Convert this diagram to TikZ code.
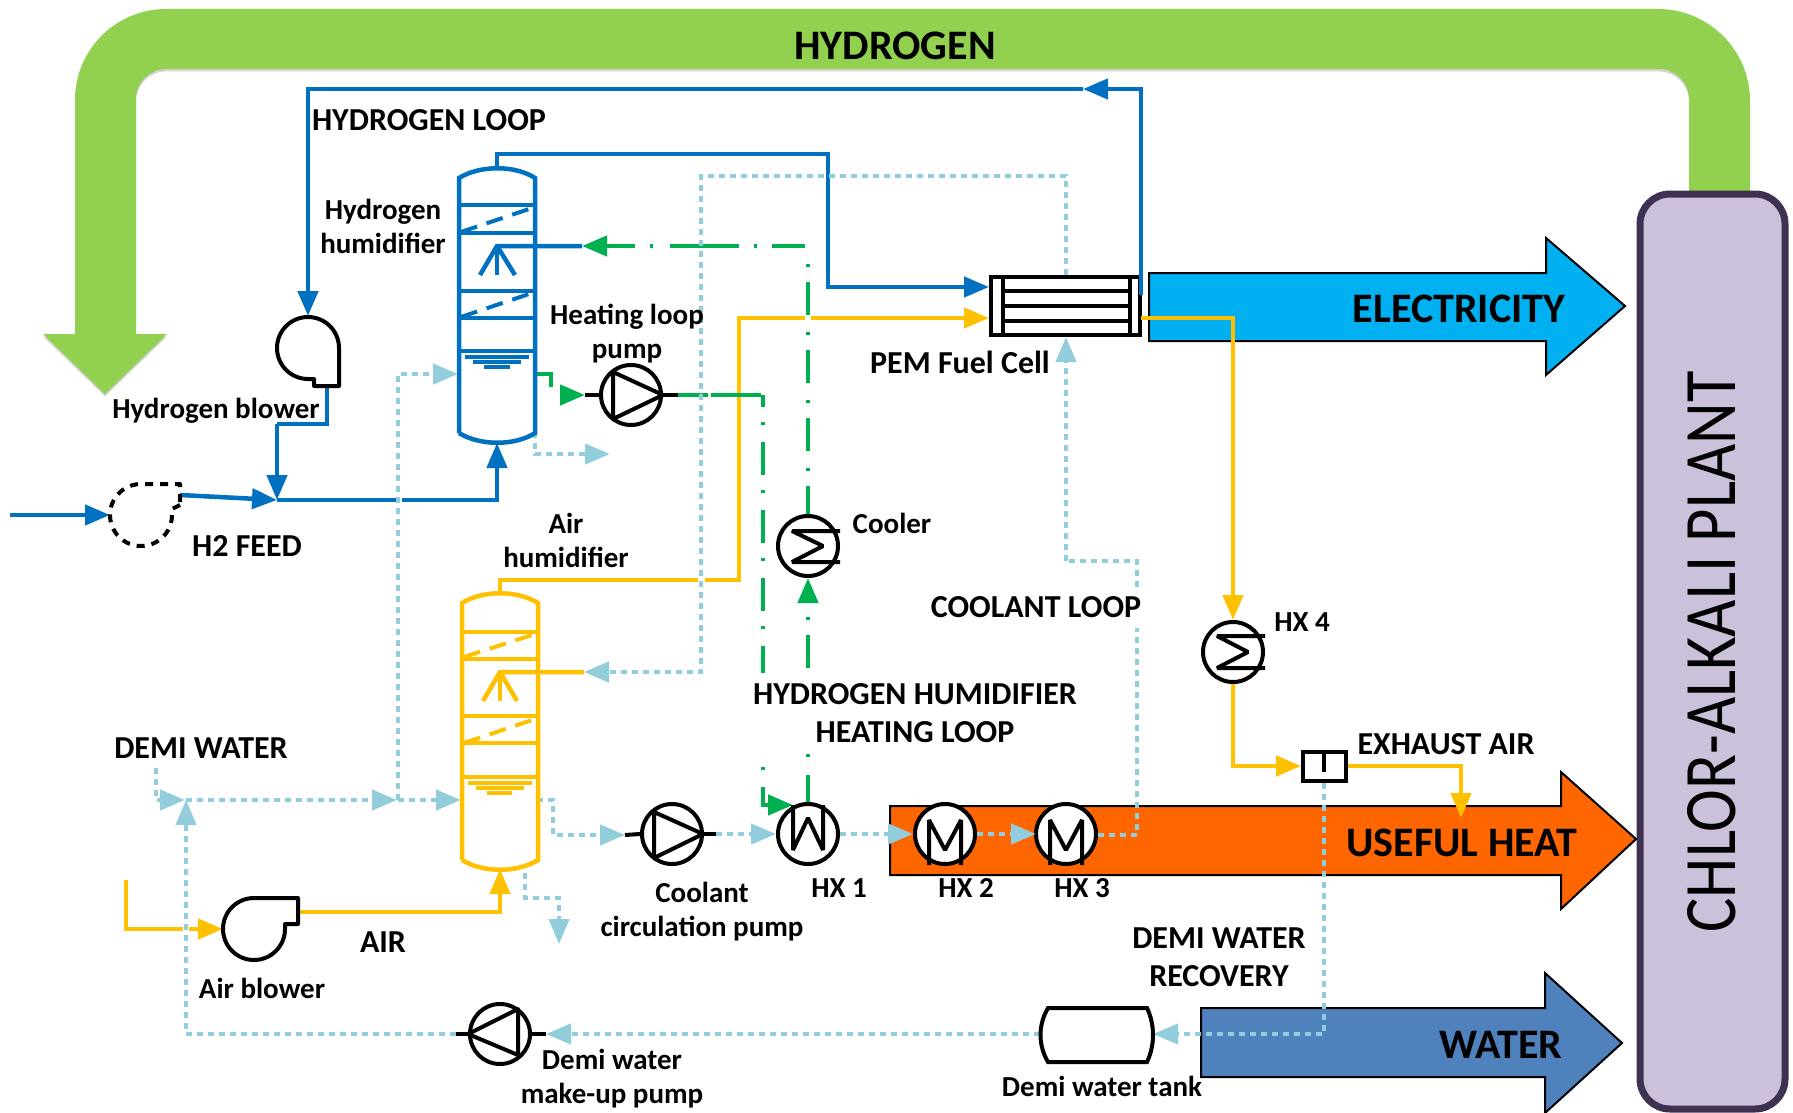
\documentclass[tikz,border=0pt]{standalone}
\usepackage{fontspec}
\setmainfont{Carlito}
\usetikzlibrary{arrows.meta}
\definecolor{cBlue}{HTML}{0070C0}
\definecolor{cYel}{HTML}{FFC000}
\definecolor{cGrn}{HTML}{00B050}
\definecolor{cDot}{HTML}{92CDDC}
\definecolor{cLeaf}{HTML}{92D050}
\definecolor{cPlant}{HTML}{CCC1DA}
\definecolor{cEdge}{HTML}{3F3151}
\definecolor{cHeat}{HTML}{FF6600}
\definecolor{cElec}{HTML}{00B0F0}
\definecolor{cWat}{HTML}{4F81BD}
\tikzset{
  x=1pt,y=-1pt,
  tip/.style={-{Triangle[length=25pt,width=20pt]}},
  bl/.style={draw=cBlue,line width=4.5pt},
  yl/.style={draw=cYel,line width=4.5pt},
  gn/.style={draw=cGrn,line width=4.5pt,dash pattern=on 33pt off 15pt on 3pt off 17pt},
  gs/.style={draw=cGrn,line width=4.5pt},
  dt/.style={draw=cDot,line width=4.5pt,dash pattern=on 6pt off 5pt},
  ds/.style={draw=cDot,line width=4.5pt},
  hatch/.style={dash pattern=on 17pt off 10pt,line width=4pt},
  bk/.style={draw=black,line width=4pt},
  equip/.style={circle,draw=black,line width=4pt,fill=white,minimum size=60pt,inner sep=0pt},
  lbl/.style={font=\bfseries\fontsize{29}{34}\selectfont,inner sep=0pt,align=center,text=black},
  lcap/.style={font=\bfseries\fontsize{32}{38}\selectfont,inner sep=0pt,align=center,text=black},
  big/.style={font=\bfseries\fontsize{42}{46}\selectfont,inner sep=0pt,text=black},
  band/.style={draw=black,line width=2pt},
}
\begin{document}
\begin{tikzpicture}
\useasboundingbox (0,0) rectangle (1793,1113);

% === hydrogen return band
\fill[gray,opacity=.35,shift={(0,2.5)}] (1750,191) -- (1750,101) arc[start angle=0,end angle=-90,radius=92] -- (166,9) arc[start angle=-90,end angle=-180,radius=91] -- (75,334) -- (43,334) -- (105,394) -- (167,334) -- (136,334) -- (136,99) arc[start angle=-180,end angle=-90,radius=30] -- (1659,69) arc[start angle=-90,end angle=0,radius=30] -- (1689,191) -- cycle;
\fill[cLeaf] (1750,191) -- (1750,101) arc[start angle=0,end angle=-90,radius=92] -- (166,9) arc[start angle=-90,end angle=-180,radius=91] -- (75,334) -- (43,334) -- (105,394) -- (167,334) -- (136,334) -- (136,99) arc[start angle=-180,end angle=-90,radius=30] -- (1659,69) arc[start angle=-90,end angle=0,radius=30] -- (1689,191) -- cycle;

% === plant
\draw[cEdge,line width=7pt,fill=cPlant,rounded corners=30pt] (1640,194) rectangle (1785,1109);
\node[rotate=90,inner sep=0pt] (plant) at (1712,652) {\fontsize{74}{80}\selectfont\scalebox{0.87}[1]{CHLOR-ALKALI PLANT}};

% === product arrows
\draw[band,fill=cElec] (1149,273) -- (1546,273) -- (1546,238) -- (1625,306) -- (1546,375) -- (1546,341) -- (1149,341) -- cycle;
\draw[band,fill=cHeat] (890,806) -- (1561,806) -- (1561,772) -- (1636,839) -- (1561,909) -- (1561,875) -- (890,875) -- cycle;
\draw[band,fill=cWat] (1201,1008) -- (1545,1008) -- (1545,973) -- (1622,1043) -- (1545,1113) -- (1545,1077) -- (1201,1077) -- cycle;

% === named points
\coordinate (h2top) at (497,168);
\coordinate (h2bot) at (497,443);
\coordinate (airtop) at (500,594);
\coordinate (airbot) at (500,869);
\coordinate (jH) at (277,500);
\coordinate (jD) at (186,800);
\coordinate (jB) at (398,800);
\coordinate (fcW1) at (989,287);
\coordinate (fcW2) at (989,318);
\coordinate (fcN) at (1066,275);
\coordinate (fcS) at (1066,337);
\coordinate (fcE) at (1141,295);
\coordinate (fcY) at (1141,318);
\coordinate (tankE) at (1153,1034);
\coordinate (tankW) at (1040,1034);
\coordinate (sepS) at (1324,783);
\coordinate (sepW) at (1301,766);
\coordinate (sepE) at (1348,766);

% === equipment circles
\node[equip] (cooler) at (808,546) {};
\node[equip] (hx4) at (1233,652) {};
\node[equip] (pumpH) at (631,395) {};
\node[equip] (pumpC) at (672,834) {};
\node[equip] (hx1) at (808,834) {};
\node[equip] (hx2) at (945,834) {};
\node[equip] (hx3) at (1066,834) {};
\node[equip] (pumpM) at (500,1034) {};

% === blue hydrogen circuit
\draw[bl,tip] (fcE) |- (1083,89);
\draw[bl,tip] (1083,89) -| (308,316);
\draw[bl] (327,386) |- (277,424);
\draw[bl,tip] (277,424) -- (jH);
\draw[bl,tip] (h2top) |- (828,154) |- (fcW1);
\draw[bl] (jH) -- (396,500);
\draw[bl,tip] (402,500) -| (h2bot);
\draw[bl,tip] (10,515) -- (110,515);
\draw[bl,tip] (180,495) -- (jH);

% === yellow air circuit
\draw[yl] (airtop) |- (698,580);
\draw[yl] (705,580) -| (739,318) -- (805,318);
\draw[yl,tip] (811,318) -- (fcW2);
\draw[yl] (fcY) -| (1233,595);
\draw[yl,tip] (1233,595) -- (hx4.north);
\draw[yl] (hx4.south) |- (1276,766);
\draw[yl,tip] (1276,766) -- (sepW);
\draw[yl] (sepE) -| (1461,794);
\draw[yl,tip] (1461,794) -- (1461,818);
\draw[yl] (126,880) |- (183,929);
\draw[yl,tip] (189,929) -- (223,929);
\draw[yl,tip] (298,912) -| (airbot);

% === green humidifier heating loop
\draw[gs] (535,374) -| (551,387);
\draw[gs,tip] (560,395) -- (585,395);
\draw[gs,dash pattern=on 30pt off 3pt on 50pt] (678,395) -- (763,395);
\draw[gn,dash phase=21pt] (763,395) -- (763,673);
\draw[gn] (763,767) -- (763,770);
\draw[gs] (763,787) |- (767,805);
\draw[gs,tip] (767,805) -- (793,805);
\draw[gs] (hx1.north) -- (808,775);
\draw[gn] (808,757) -- (808,754);
\draw[gn] (808,668) -- (808,604);
\draw[gs,tip] (808,602) -- (cooler.south);
\draw[gn,dash phase=5pt] (cooler.north) -- (808,260);
\draw[gs,dash pattern=on 33pt off 15pt on 3pt off 15pt on 69pt off 17pt on 3pt off 15pt on 30pt] (805,246) -- (607,246);
\draw[gs,tip] (607,246) -- (582,246);

% === light-blue water and coolant circuit
\draw[dt] (535,432) |- (585,454);
\draw[ds,tip] (585,454) -- (610,454);
\draw[dt] (156,768) |- (161,800);
\draw[ds,tip] (161,800) -- (185,800);
\draw[dt] (jD) -- (373,800);
\draw[ds,tip] (373,800) -- (397,800);
\draw[dt] (jB) -- (437,800);
\draw[ds,tip] (437,800) -- (461,800);
\draw[dt] (jB) |- (434,374);
\draw[ds,tip] (434,374) -- (458,374);
\draw[dt] (456,1034) -| (186,826);
\draw[ds,tip] (186,826) -- (jD);
\draw[dt] (537,800) -| (553,835) -- (601,835);
\draw[ds,tip] (601,835) -- (625,835);
\draw[dt] (716,834) -- (752,834);
\draw[ds,tip] (752,834) -- (776,834);
\draw[dt] (840,834) -- (888,834);
\draw[ds,tip] (888,834) -- (913,834);
\draw[dt] (977,834) -- (1011,834);
\draw[ds,tip] (1011,834) -- (1036,834);
\draw[dt] (1098,835) -| (1137,628);
\draw[dt] (1137,587) |- (1066,561);
\draw[dt] (1066,561) -- (1066,362);
\draw[ds,tip] (1066,362) -- (fcS);
\draw[dt] (fcN) |- (701,176) |- (609,672);
\draw[ds,tip] (609,672) -- (584,672);
\draw[dt] (525,873) |- (559,898) -- (559,920);
\draw[ds,tip] (559,920) -- (559,944);
\draw[dt] (sepS) |- (1178,1034);
\draw[ds,tip] (1178,1034) -- (tankE);
\draw[dt] (tankW) -- (571,1034);
\draw[ds,tip] (571,1034) -- (546,1034);

% === hydrogen humidifier
\draw[bl] (459,433) -- (459,178) .. controls (480,165) and (515,165) .. (535,178) -- (535,433) .. controls (515,446) and (480,446) .. (459,433);
\foreach \y in {205,233,291,318,351} \draw[bl] (459,\y) -- (535,\y);
\draw[bl,hatch] (461,232) -- (535,207);
\draw[bl,hatch] (461,317) -- (535,292);
\draw[bl] (465,357) -- (529,357);
\draw[bl] (473,362) -- (521,362);
\draw[bl] (484,367) -- (510,367);
\draw[bl] (582,246) -- (497,246) -- (480,275);
\draw[bl] (497,246) -- (497,275);
\draw[bl] (497,246) -- (515,275);

% === air humidifier
\draw[yl] (462,860) -- (462,603) .. controls (483,590) and (517,590) .. (538,603) -- (538,860) .. controls (517,873) and (483,873) .. (462,860);
\foreach \y in {632,659,716,743,777} \draw[yl] (462,\y) -- (538,\y);
\draw[yl,hatch] (464,657) -- (538,633);
\draw[yl,hatch] (464,743) -- (538,718);
\draw[yl] (468,783) -- (532,783);
\draw[yl] (476,788) -- (524,788);
\draw[yl] (487,793) -- (512,793);
\draw[yl] (584,672) -- (500,672) -- (483,701);
\draw[yl] (500,672) -- (500,701);
\draw[yl] (500,672) -- (517,701);

% === machine glyphs
\draw[bk] (585,395) -- (pumpH.west);
\draw[bk] (pumpH.east) -- (678,395);
\draw[bk,line join=round] (613,372) -- (613,419) -- (pumpH.east) -- cycle;
\draw[bk] (625,835) -- (pumpC.west);
\draw[bk] (pumpC.east) -- (716,834);
\draw[bk,line join=round] (654,812) -- (654,858) -- (703,834) -- cycle;
\draw[bk] (546,1034) -- (pumpM.east);
\draw[bk] (pumpM.west) -- (456,1034);
\draw[bk,line join=round] (518,1009) -- (518,1055) -- (pumpM.west) -- cycle;

\draw[bk,line join=bevel] (793,805) -- (793,850) -- (808,818) -- (823,850) -- (823,805);
\draw[bk,line join=bevel] (929,865) -- (929,820) -- (945,850) -- (961,820) -- (961,865);
\draw[bk,line join=bevel] (1050,865) -- (1050,820) -- (1066,850) -- (1082,820) -- (1082,865);
\draw[bk,line join=bevel] (840,531) -- (792,531) -- (823,546) -- (792,562) -- (840,562);
\draw[bk,line join=bevel] (1265,636) -- (1217,636) -- (1248,652) -- (1217,668) -- (1265,668);

% === blowers
\draw[bk,fill=white,line join=round] (339,348) arc[start angle=0,end angle=-270,radius=31] -- (314,379) -- (314,386) -- (339,386) -- cycle;
\draw[bk,dash pattern=on 8pt off 7pt,line join=round] (180,505) -- (172,509) -- (172,515) arc[start angle=0,end angle=270,radius=31] -- (180,484) -- (180,505);
\draw[bk,fill=white,line join=round] (255,898) -- (298,898) -- (298,924) -- (285,924) -- (285,929) arc[start angle=0,end angle=270,radius=31] -- cycle;

% === fuel cell
\draw[bk,fill=white] (991,277) rectangle (1140,335);
\draw[bk] (1003,277) -- (1003,335);
\draw[bk] (1130,277) -- (1130,335);
\foreach \y in {291,306,321} \draw[bk] (1003,\y) -- (1130,\y);
\draw[bl] (fcE) -- (1141,275);
\draw[yl] (fcY) -- (1150,318);

% === separator
\draw[bk,fill=white] (1303,752) rectangle (1346,781);
\draw[bk] (1324,752) -- (1324,772);

% === tank
\draw[bk,fill=white] (1048,1008) -- (1147,1008) .. controls (1155,1025) and (1155,1045) .. (1147,1062) -- (1048,1062) .. controls (1038,1045) and (1038,1025) .. (1048,1008) -- cycle;

% === labels
\node[big] (tH) at (895,46) {HYDROGEN};
\node[big] (tE) at (1459,309) {ELECTRICITY};
\node[big] (tU) at (1462,843) {USEFUL HEAT};
\node[big] (tW) at (1501,1045) {WATER};
\node[lcap] (t1) at (429,120) {HYDROGEN LOOP};
\node[lbl] (t2) at (383,226) {Hydrogen\\humidifier};
\node[lbl] (t3) at (627,334) {Heating loop\\pump};
\node[lbl] (t4) at (216,411) {Hydrogen blower};
\node[lcap] (t5) at (247,546) {H2 FEED};
\node[lbl] (t6) at (566,540) {Air\\humidifier};
\node[lcap] (t7) at (960,362) {PEM Fuel Cell};
\node[lbl] (t8) at (892,523) {Cooler};
\node[lcap] (t9) at (1036,607) {COOLANT LOOP};
\node[lbl] (t10) at (1302,622) {HX 4};
\node[lcap] (t11) at (915,713) {HYDROGEN HUMIDIFIER\\HEATING LOOP};
\node[lcap] (t12) at (201,748) {DEMI WATER};
\node[lcap] (t13) at (1446,744) {EXHAUST AIR};
\node[lbl] (t14) at (702,912) {Coolant\\circulation pump};
\node[lbl] (t15) at (839,888) {HX 1};
\node[lbl] (t16) at (966,888) {HX 2};
\node[lbl] (t17) at (1082,888) {HX 3};
\node[lcap] (t18) at (383,942) {AIR};
\node[lbl] (t19) at (262,988) {Air blower};
\node[lcap] (t20) at (1219,957) {DEMI WATER\\RECOVERY};
\node[lbl] (t21) at (612,1079) {Demi water\\make-up pump};
\node[lbl] (t22) at (1102,1086) {Demi water tank};
\end{tikzpicture}
\end{document}
